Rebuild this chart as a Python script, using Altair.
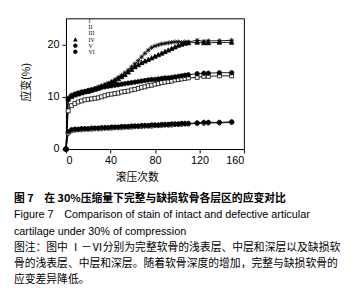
import altair as alt
import pandas as pd

# ---- data ----
x_vals = [0, 2, 5, 8, 11, 14, 17, 20, 23, 26, 29, 32, 35, 38, 41, 44, 47, 50, 53, 56, 59,
          62, 65, 68, 71, 74, 77, 80, 83, 86, 89, 92, 95, 98, 101, 104, 107, 110,
          118, 124, 128, 138, 149]

s_I = [0, 9.8, 10.3, 10.5, 10.7, 10.9, 11.0, 11.2, 11.4, 11.6, 11.9, 12.1, 12.4, 12.6, 12.9,
       13.3, 13.7, 14.1, 14.6, 15.1, 15.7, 16.3, 16.9, 17.6, 18.3, 18.9, 19.4, 19.7, 19.9,
       20.1, 20.2, 20.3, 20.4, 20.5, 20.5, 20.4, 20.5, 20.5, 20.8, 20.6, 20.7, 20.7, 20.8]
s_II = [0, 7.3, 8.3, 8.7, 9.0, 9.2, 9.4, 9.5, 9.6, 9.7, 9.8, 10.0, 10.2, 10.4, 10.5, 10.6,
        10.7, 10.9, 11.0, 11.1, 11.3, 11.4, 11.6, 11.8, 11.9, 12.1, 12.2, 12.4, 12.5, 12.7,
        12.8, 12.9, 13.0, 13.2, 13.3, 13.4, 13.5, 13.6, 13.7, 13.9, 13.9, 14.0, 14.0]
s_III = [0, 3.0, 3.5, 3.6, 3.7, 3.7, 3.8, 3.8, 3.8, 3.9, 3.9, 3.9, 4.0, 4.0, 4.0, 4.1, 4.1,
         4.1, 4.2, 4.2, 4.2, 4.3, 4.3, 4.3, 4.4, 4.4, 4.4, 4.5, 4.5, 4.5, 4.6, 4.6, 4.6, 4.7,
         4.7, 4.7, 4.8, 4.8, 4.9, 4.9, 5.0, 5.0, 5.1]
s_IV = [0, 9.5, 10.0, 10.3, 10.5, 10.7, 10.9, 11.0, 11.2, 11.4, 11.6, 11.9, 12.1, 12.4, 12.7,
        13.0, 13.4, 13.8, 14.2, 14.7, 15.2, 15.7, 16.1, 16.5, 16.8, 17.1, 17.4, 17.7, 18.0,
        18.3, 18.6, 18.9, 19.2, 19.5, 19.8, 20.0, 20.2, 20.3, 20.4, 20.3, 20.3, 20.4, 20.4]
s_V = [0, 9.6, 10.2, 10.5, 10.7, 10.9, 11.0, 11.2, 11.3, 11.5, 11.6, 11.8, 11.9, 12.0, 12.1,
       12.2, 12.3, 12.4, 12.5, 12.6, 12.7, 12.8, 12.9, 13.0, 13.1, 13.2, 13.3, 13.3, 13.4,
       13.5, 13.6, 13.6, 13.7, 13.8, 13.9, 14.0, 14.1, 14.2, 14.4, 14.5, 14.5, 14.6, 14.6]
s_VI = [0, 3.3, 3.7, 3.8, 3.8, 3.9, 3.9, 3.9, 4.0, 4.0, 4.0, 4.1, 4.1, 4.1, 4.2, 4.2, 4.2,
        4.3, 4.3, 4.3, 4.4, 4.4, 4.4, 4.5, 4.5, 4.5, 4.6, 4.6, 4.6, 4.7, 4.7, 4.7, 4.8, 4.8,
        4.8, 4.9, 4.9, 4.9, 5.0, 5.1, 5.1, 5.1, 5.2]

series_names = ["I", "II", "III", "IV", "V", "VI"]
series_values = [s_I, s_II, s_III, s_IV, s_V, s_VI]

x_ticks = [0, 20, 40, 60, 80, 100, 120, 140, 160]
y_ticks = [0, 2.5, 5, 7.5, 10, 12.5, 15, 17.5, 20, 22.5, 25]

x_title = "滚压次数"
y_title = "应变(%)"

caption_lines = [
    "图 7\u2003在 30%压缩量下完整与缺损软骨各层区的应变对比",
    "Figure 7\u2003Comparison of stain of intact and defective articular",
    "cartilage under 30% of compression",
    "图注：图中 Ⅰ－Ⅵ分别为完整软骨的浅表层、中层和深层以及缺损软",
    "骨的浅表层、中层和深层。随着软骨深度的增加，完整与缺损软骨的",
    "应变差异降低。",
]

# ---- styles ----
CIRC = "M-1,0A1,1 0 1,0 1,0A1,1 0 1,0 -1,0Z"
asterisk = "M0,-1.1L0,1.1M-1.1,0L1.1,0M-0.8,-0.8L0.8,0.8M-0.8,0.8L0.8,-0.8"
triangle = "M0,-1.1L1.05,0.85L-1.05,0.85Z"
square = "M-0.9,-0.9H0.9V0.9H-0.9Z"
marker_range = [asterisk, square, CIRC, triangle, CIRC, CIRC]
fill_range = ["black", "white", "white", "black", "black", "black"]

# legend symbols: same markers with a short line through them
LINE_FULL = "M-3.8,0H3.8"
LINE_GAP = "M-3.8,0H-1M1,0H3.8"
legend_range = [
    LINE_FULL + asterisk,
    LINE_GAP + square,
    LINE_GAP + CIRC,
    LINE_FULL + triangle,
    LINE_FULL + CIRC,
    LINE_FULL + CIRC,
]

rows = []
for name, ys in zip(series_names, series_values):
    for xv, yv in zip(x_vals, ys):
        rows.append({"x": xv, "y": yv, "s": name})
df = pd.DataFrame(rows)

x_axis = alt.Axis(
    values=x_ticks,
    labelExpr="datum.value % 40 === 0 ? datum.label : ''",
    tickSize={"condition": {"test": "datum.value % 40 === 0", "value": 4}, "value": 2},
    labelPadding=2,
    title=x_title,
    titleFont="Noto Sans CJK SC",
    titleFontSize=11,
    titleFontWeight="normal",
    titlePadding=6,
    titleColor="black",
    titleX=72,
    titleAlign="center",
    grid=False,
)
y_axis = alt.Axis(
    values=y_ticks,
    labelExpr="datum.value % 5 === 0 ? datum.label : ''",
    tickSize={"condition": {"test": "datum.value % 5 === 0", "value": 4}, "value": 2},
    labelPadding=3,
    title=None,
    grid=False,
)

xs = alt.Scale(domain=[0, 160], nice=False, zero=False)
ys_ = alt.Scale(domain=[0, 25], nice=False)

lines = alt.Chart(df).mark_line(strokeWidth=0.9, color="black").encode(
    x=alt.X("x:Q", scale=xs, axis=x_axis),
    y=alt.Y("y:Q", scale=ys_, axis=y_axis),
    detail="s:N",
)

points = alt.Chart(df).mark_point(filled=True, size=20, stroke="black", strokeWidth=0.8, opacity=1).encode(
    x="x:Q",
    y="y:Q",
    shape=alt.Shape("s:N", scale=alt.Scale(domain=series_names, range=marker_range), legend=None),
    fill=alt.Fill("s:N", scale=alt.Scale(domain=series_names, range=fill_range), legend=None),
)

leg = alt.Legend(
    title=None, orient="none", legendX=6.5, legendY=0, symbolSize=20,
    labelFont="Liberation Serif", labelFontSize=6, rowPadding=0.2, padding=0, clipHeight=6,
    labelOffset=10.5, labelColor="black", symbolStrokeColor="black", symbolStrokeWidth=0.8,
)
legend_layer = alt.Chart(df).transform_filter("datum.x < 0").mark_point(
    filled=True, size=20, stroke="black", strokeWidth=0.8, opacity=1
).encode(
    x="x:Q",
    y="y:Q",
    shape=alt.Shape("s:N", scale=alt.Scale(domain=series_names, range=legend_range), legend=leg),
    fill=alt.Fill("s:N", scale=alt.Scale(domain=series_names, range=fill_range), legend=leg),
)

def text_layer(txt, x, y, font, weight="normal", angle=0, align="left", size=11):
    return alt.Chart(pd.DataFrame({"t": [txt]})).mark_text(
        align=align, baseline="middle", font=font, fontSize=size, fontWeight=weight,
        color="black", angle=angle,
    ).encode(x=alt.value(x), y=alt.value(y), text="t:N")

caption_y = [184, 200.5, 217, 233.5, 250, 266.5]
caption_font = ["Noto Sans CJK SC", "Liberation Sans", "Liberation Sans",
                "Noto Sans CJK SC", "Noto Sans CJK SC", "Noto Sans CJK SC"]
caption_weight = ["bold", "normal", "normal", "normal", "normal", "normal"]

layers = [lines, points, legend_layer,
          text_layer(y_title, -40, 65, "Noto Sans CJK SC", angle=270, align="center")]
for line, yy, fnt, wt in zip(caption_lines, caption_y, caption_font, caption_weight):
    layers.append(text_layer(line, -53, yy, fnt, weight=wt))

chart = alt.layer(*layers).resolve_scale(
    shape="independent", fill="independent"
).properties(
    width=181,
    height=133,
    autosize=alt.AutoSizeParams(type="none"),
    padding={"left": 59, "top": 8, "right": 110, "bottom": 145},
).configure_view(
    stroke="black", strokeWidth=1
).configure_axis(
    domainColor="black", tickColor="black", labelColor="black",
    labelFont="Liberation Sans", labelFontSize=11, domainWidth=1, tickWidth=1,
)

chart.save("out.html", embed_options={"renderer": "svg", "actions": False})
